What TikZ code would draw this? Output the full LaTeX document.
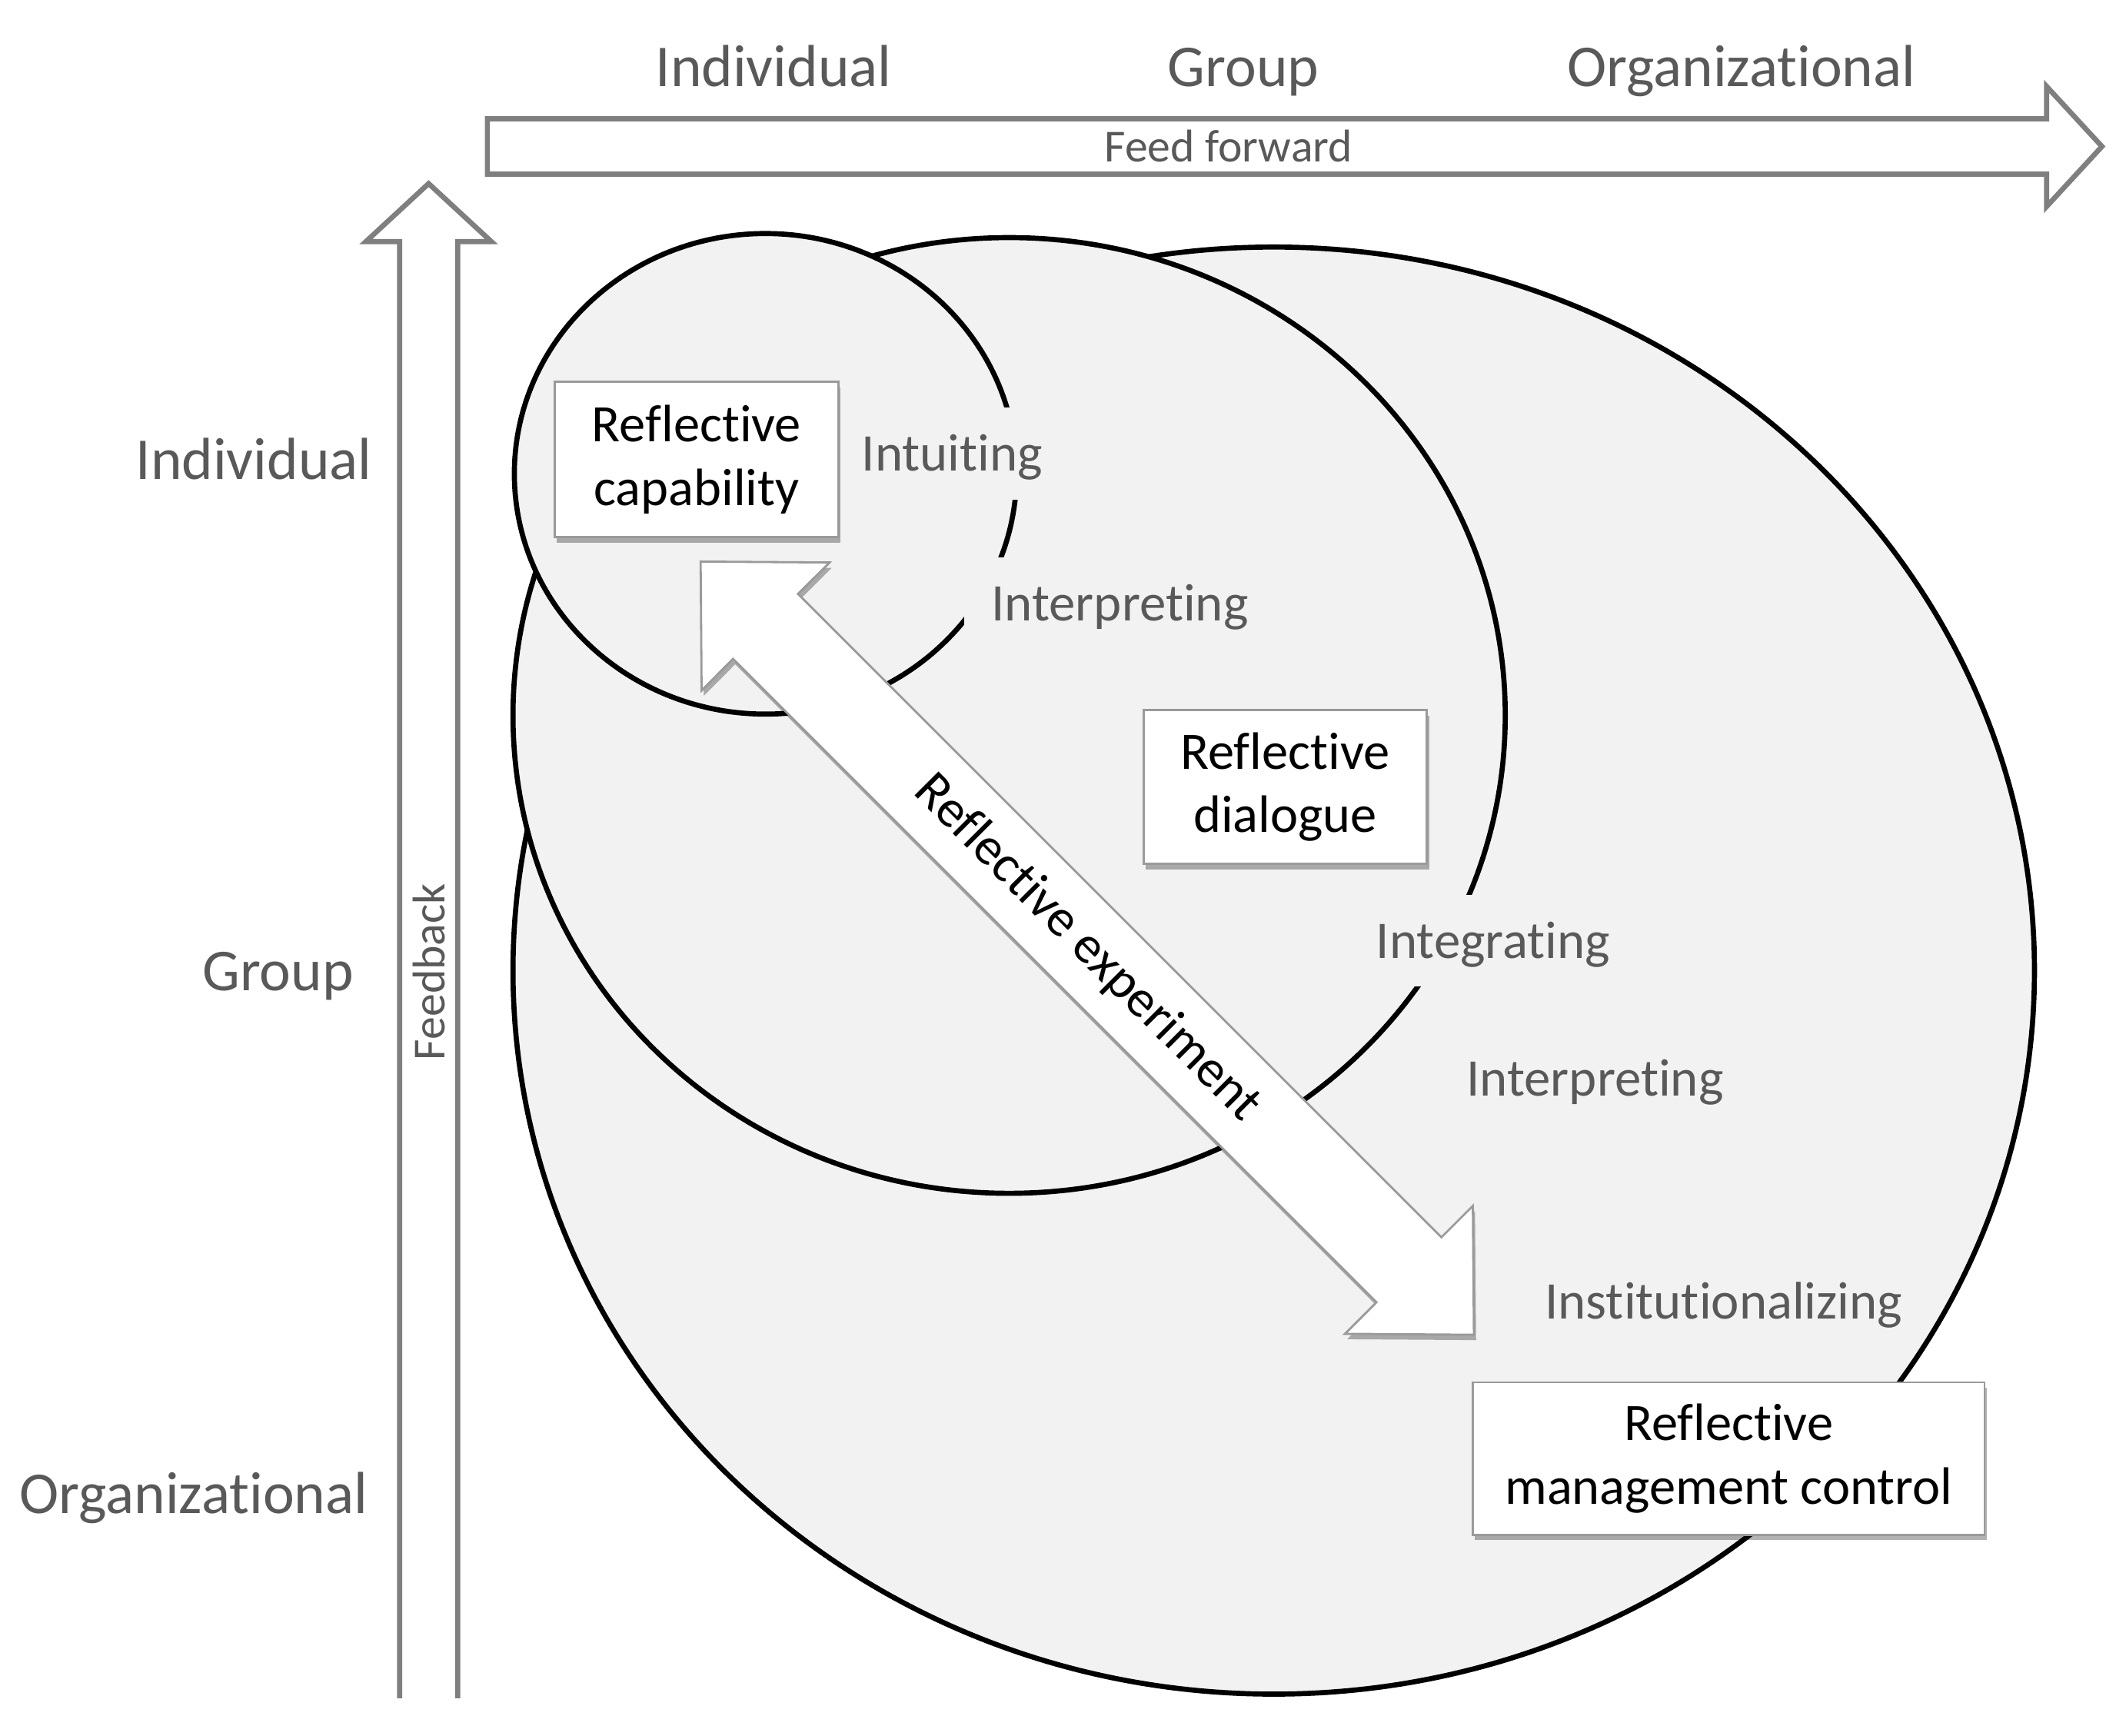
\documentclass[tikz,border=0pt]{standalone}
\usepackage{fontspec}
\setmainfont{Carlito}[Ligatures={NoCommon}]
\usetikzlibrary{shadows}
\definecolor{circfill}{HTML}{F2F2F2}
\definecolor{lblgray}{HTML}{595959}
\definecolor{axgray}{HTML}{7F7F7F}
\definecolor{boxgray}{HTML}{9A9A9A}
\begin{document}
\begin{tikzpicture}[x=0.5pt,y=-0.5pt,
  ring/.style={draw=black,line width=1.9pt,fill=circfill},
  stagelbl/.style={text=lblgray,font=\fontsize{19.6}{23.5}\selectfont,fill=circfill,inner xsep=10pt,inner ysep=0pt,text height=17pt,text depth=4pt,minimum height=34pt,anchor=base west},
  axislbl/.style={text=lblgray,font=\fontsize{22}{26}\selectfont,anchor=base,inner sep=0pt},
  flowlbl/.style={text=lblgray,font=\fontsize{17}{20}\selectfont,inner sep=0pt},
  softshadow/.style={drop shadow={shadow xshift=0.8pt,shadow yshift=-2pt,opacity=0.3,fill=black}},
  reflbox/.style={draw=boxgray,line width=0.8pt,fill=white,align=center,font=\fontsize{19.5}{23.5}\selectfont,inner sep=0pt,softshadow},
  flowarrow/.style={draw=axgray,line width=1.9pt,fill=white,line join=miter}
]
\useasboundingbox (0,0) rectangle (1560,1286);

% nested learning levels
\draw[ring] (943.5,719) ellipse [x radius=281.75pt,y radius=268pt];
\draw[ring] (747.5,530) ellipse [x radius=183.75pt,y radius=177pt];
\draw[ring] (567,351) ellipse [x radius=93pt,y radius=89pt];

% process labels
\node[stagelbl] (intuit) at (618,349) {Intuiting};
\node[stagelbl] (interpA) at (714,460) {Interpreting};
\node[stagelbl] (integ) at (999,710) {Integrating};
\node[stagelbl] (interpB) at (1066,812) {Interpreting};
\node[stagelbl,fill=none] (inst) at (1124,977) {Institutionalizing};

% reflective experiment double arrow
\path[draw=boxgray,line width=0.8pt,fill=white,line join=miter,softshadow]
  (519,416) -- (614.5,416.7) -- (591.1,440.0) -- (1067.7,916.6) -- (1091.0,893.3)
  -- (1091.8,988.8) -- (996.3,988.1) -- (1019.6,964.7) -- (543.0,488.1)
  -- (519.7,511.5) -- cycle;
\node[rotate=-45,font=\fontsize{19.5}{23.5}\selectfont,inner sep=0pt] (rexp) at (805.5,702.4) {Reflective experiment};

% boxes
\node[reflbox,minimum width=105pt,minimum height=57.5pt] (rcap) at (516,340.5) {Reflective\\capability};
\node[reflbox,minimum width=105pt,minimum height=57pt] (rdia) at (952,583) {Reflective\\dialogue};
\node[reflbox,minimum width=189.5pt,minimum height=56.5pt] (rmc) at (1280.5,1080.5) {Reflective\\management control};

% axis arrows
\path[flowarrow] (361,88) -- (1516,88) -- (1516,64) -- (1557,108.5) -- (1516,153) -- (1516,129) -- (361,129) -- cycle;
\path[flowarrow] (296,1258) -- (296,179) -- (271,179) -- (317.5,136) -- (364,179) -- (339,179) -- (339,1258);
\node[flowlbl] (ff) at (910,108) {Feed forward};
\node[flowlbl,rotate=90] (fb) at (318,720) {Feedback};

% axis labels
\node[axislbl] (tind) at (573,64) {Individual};
\node[axislbl] (tgrp) at (921,64) {Group};
\node[axislbl] (torg) at (1290,64) {Organizational};
\node[axislbl] (lind) at (188,355) {Individual};
\node[axislbl] (lgrp) at (206,734) {Group};
\node[axislbl] (lorg) at (143.5,1121) {Organizational};
\end{tikzpicture}
\end{document}
